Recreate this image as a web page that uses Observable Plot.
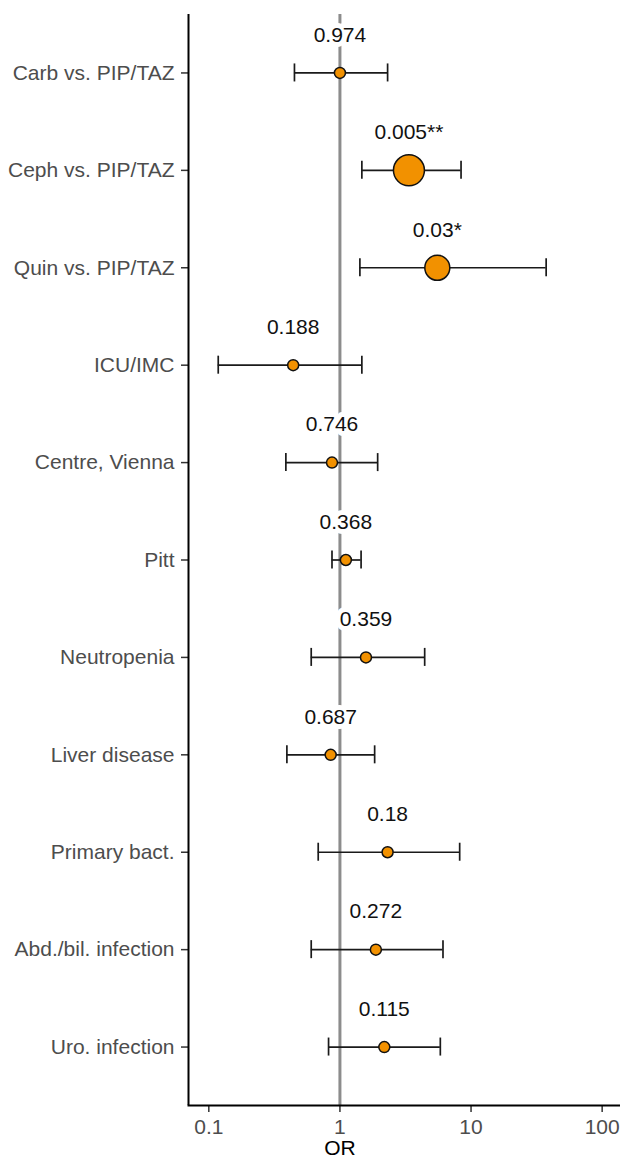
<!DOCTYPE html>
<html>
<head>
<meta charset="utf-8">
<script src="https://cdn.jsdelivr.net/npm/d3@7"></script>
<script src="https://cdn.jsdelivr.net/npm/@observablehq/plot@0.6"></script>
<style>
  body { margin: 0; background: #fff; }
  #chart svg { display: block; }
  #chart g[aria-label="y-axis tick"], #chart g[aria-label="x-axis tick"] { stroke: #333; stroke-width: 1.5px; }
  #chart g[aria-label="y-axis tick label"], #chart g[aria-label="x-axis tick label"] { fill: #4d4d4d; }
</style>
</head>
<body>
<div id="chart"></div>
<script>
const terms = ["Carb vs. PIP/TAZ", "Ceph vs. PIP/TAZ", "Quin vs. PIP/TAZ", "ICU/IMC", "Centre, Vienna", "Pitt",
  "Neutropenia", "Liver disease", "Primary bact.", "Abd./bil. infection", "Uro. infection"];
const oddsRatio = [1.00, 3.36, 5.53, 0.44, 0.87, 1.11, 1.58, 0.85, 2.31, 1.88, 2.18];
const lowerCI = [0.45, 1.47, 1.42, 0.118, 0.387, 0.87, 0.604, 0.394, 0.683, 0.604, 0.819];
const upperCI = [2.31, 8.39, 37.4, 1.47, 1.94, 1.45, 4.43, 1.84, 8.19, 6.11, 5.83];
const pLabels = ["0.974", "0.005**", "0.03*", "0.188", "0.746", "0.368", "0.359", "0.687", "0.18", "0.272", "0.115"];
const pointRadius = [5.5, 15.5, 12.5, 5.5, 5.5, 5.5, 5.5, 5.5, 5.5, 5.5, 5.5];
const xTicks = [0.1, 1, 10, 100];
const xLabel = "OR";

const data = terms.map((t, i) => ({
  term: t, or: oddsRatio[i], lo: lowerCI[i], hi: upperCI[i], p: pLabels[i], r: pointRadius[i]
}));

const font = "'Liberation Sans', Arial, Helvetica, sans-serif";

const chart = Plot.plot({
  width: 620,
  height: 1157,
  marginLeft: 188,
  marginRight: 0,
  marginTop: 14,
  marginBottom: 52,
  style: { fontFamily: font, fontSize: "21px", background: "#fff", color: "#000", overflow: "visible" },
  x: {
    type: "log", domain: [0.07, 138], ticks: xTicks, tickFormat: d => String(d),
    label: null, tickSize: 7, tickPadding: 7
  },
  y: {
    type: "band", domain: terms, paddingInner: 0.815, paddingOuter: 0.5075, round: false,
    label: null, tickSize: 7, tickPadding: 7
  },
  r: { type: "identity" },
  marks: [
    Plot.ruleX([1], { stroke: "#8c8c8c", strokeWidth: 3 }),
    Plot.ruleY(data, { y: "term", x1: "lo", x2: "hi", stroke: "#1a1a1a", strokeWidth: 1.7 }),
    Plot.tickX(data, { x: "lo", y: "term", stroke: "#1a1a1a", strokeWidth: 1.7 }),
    Plot.tickX(data, { x: "hi", y: "term", stroke: "#1a1a1a", strokeWidth: 1.7 }),
    Plot.dot(data, { x: "or", y: "term", r: "r", fill: "#F29100", stroke: "#111", strokeWidth: 1.5 }),
    Plot.text(data, { x: "or", y: "term", text: "p", dy: -38, fill: "#111", stroke: "white", strokeWidth: 10, fontSize: 21 }),
    Plot.ruleX([0.07], { stroke: "#000", strokeWidth: 2 }),
    Plot.frame({ anchor: "bottom", stroke: "#000", strokeWidth: 2 }),
    Plot.text([xLabel], { x: [1], text: d => d, frameAnchor: "bottom", lineAnchor: "middle", dy: 43, fill: "#000", fontSize: 21 })
  ]
});

document.getElementById("chart").appendChild(chart);
</script>
</body>
</html>
